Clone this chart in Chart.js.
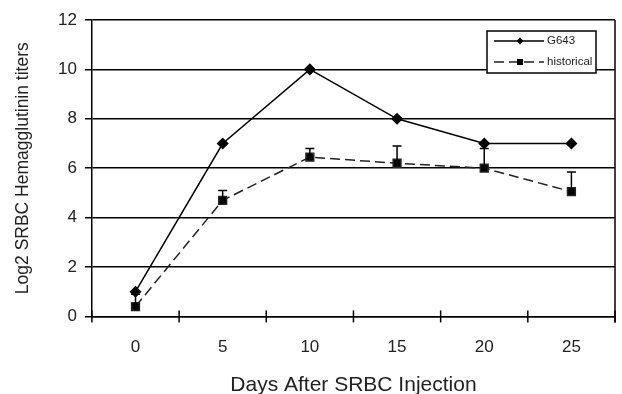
<!DOCTYPE html>
<html>
<head>
<meta charset="utf-8">
<script src="https://cdn.jsdelivr.net/npm/chart.js@4"></script>
<style>
  html, body { margin: 0; padding: 0; background: #fff; }
  #wrap { width: 622px; height: 394px; }
</style>
</head>
<body>
<div id="wrap"><canvas id="chart" width="622" height="394"></canvas></div>
<script>
const days = ["0", "5", "10", "15", "20", "25"];
const g643 = [1, 7, 10, 8, 7, 7];
const historical = [0.4, 4.7, 6.45, 6.2, 6.0, 5.05];
const historicalUpper = [0.9, 5.1, 6.8, 6.9, 6.8, 5.85];
const yTicks = [0, 2, 4, 6, 8, 10, 12];

const FONT = "'Liberation Sans', Arial, sans-serif";

// error bars, right border, crossing x ticks and the in-plot legend
const extras = {
  id: "extras",
  afterDatasetsDraw(chart) {
    const ctx = chart.ctx;
    const x = chart.scales.x, y = chart.scales.y;
    const area = chart.chartArea;
    ctx.save();
    ctx.strokeStyle = "#000";
    ctx.lineWidth = 1.5;
    // error bars
    historical.forEach((v, i) => {
      const px = x.getPixelForValue(i);
      const y0 = y.getPixelForValue(v);
      const y1 = y.getPixelForValue(historicalUpper[i]);
      ctx.beginPath();
      ctx.moveTo(px, y0);
      ctx.lineTo(px, y1);
      ctx.moveTo(px - 4.5, y1);
      ctx.lineTo(px + 4.5, y1);
      ctx.stroke();
    });
    // right border
    ctx.beginPath();
    ctx.moveTo(area.right, area.top);
    ctx.lineTo(area.right, area.bottom + 6);
    ctx.stroke();
    // x ticks crossing the axis
    for (let i = 0; i <= days.length; i++) {
      const px = x.getPixelForValue(i - 0.5);
      ctx.beginPath();
      ctx.moveTo(px, area.bottom - 6);
      ctx.lineTo(px, area.bottom + 6);
      ctx.stroke();
    }
    // legend box
    const lx = area.right - 128, ly = area.top + 11, lw = 109, lh = 42;
    ctx.fillStyle = "#fff";
    ctx.fillRect(lx, ly, lw, lh);
    ctx.lineWidth = 1.5;
    ctx.strokeRect(lx, ly, lw, lh);
    ctx.font = "11.5px " + FONT;
    ctx.textBaseline = "middle";
    chart.data.datasets.forEach((ds, i) => {
      const ry = ly + 10 + i * 21;
      ctx.strokeStyle = ds.borderColor;
      ctx.lineWidth = 1.5;
      ctx.setLineDash(ds.borderDash || []);
      ctx.beginPath();
      ctx.moveTo(lx + 7, ry);
      ctx.lineTo(lx + 57, ry);
      ctx.stroke();
      ctx.setLineDash([]);
      ctx.fillStyle = "#000";
      if (ds.pointStyle === "rectRot") {
        ctx.beginPath();
        ctx.moveTo(lx + 33, ry - 3.5);
        ctx.lineTo(lx + 36.5, ry);
        ctx.lineTo(lx + 33, ry + 3.5);
        ctx.lineTo(lx + 29.5, ry);
        ctx.closePath();
        ctx.fill();
      } else {
        ctx.fillRect(lx + 30, ry - 3, 6, 6);
      }
      ctx.fillStyle = "#222";
      ctx.fillText(ds.label, lx + 60, ry);
    });
    ctx.restore();
  }
};

new Chart(document.getElementById("chart"), {
  type: "line",
  data: {
    labels: days,
    datasets: [
      {
        label: "G643",
        data: g643,
        borderColor: "#000",
        backgroundColor: "#000",
        borderWidth: 1.5,
        pointStyle: "rectRot",
        pointRadius: 5,
        tension: 0
      },
      {
        label: "historical",
        data: historical,
        borderColor: "#222",
        backgroundColor: "#000",
        borderWidth: 1.5,
        borderDash: [10, 5],
        pointStyle: "rect",
        pointRadius: 5.5,
        tension: 0
      }
    ]
  },
  options: {
    responsive: false,
    animation: false,
    devicePixelRatio: 1,
    layout: { padding: { left: 13, right: 5, top: 20, bottom: -4 } },
    plugins: { legend: { display: false }, tooltip: { enabled: false } },
    scales: {
      x: {
        offset: true,
        grid: { display: false, offset: true },
        border: { color: "#000", width: 1.5 },
        ticks: { color: "#222", font: { family: FONT, size: 17 }, padding: 13, maxRotation: 0 },
        title: { display: true, text: "Days After SRBC Injection", color: "#222", font: { family: FONT, size: 21 }, padding: { top: 2, bottom: 0 } }
      },
      y: {
        min: 0,
        max: 12,
        afterBuildTicks: (axis) => { axis.ticks = yTicks.map(v => ({ value: v })); },
        grid: { color: "#000", lineWidth: 1.5, tickLength: 7, drawTicks: true },
        border: { color: "#000", width: 1.5 },
        ticks: { color: "#222", font: { family: FONT, size: 17 }, padding: 8 },
        title: { display: true, text: "Log2 SRBC Hemagglutinin titers", color: "#222", font: { family: FONT, size: 17.5 }, padding: { top: 0, bottom: 16 } }
      }
    }
  },
  plugins: [extras]
});
</script>
</body>
</html>
